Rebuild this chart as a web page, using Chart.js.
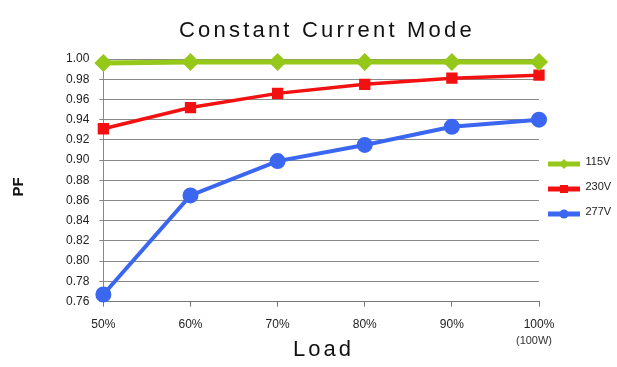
<!DOCTYPE html>
<html>
<head>
<meta charset="utf-8">
<script src="https://cdn.jsdelivr.net/npm/chart.js@4/dist/chart.umd.min.js"></script>
<style>
  html, body { margin: 0; padding: 0; background: #fff; }
  #wrap { width: 617px; height: 367px; }
</style>
</head>
<body>
<div id="wrap"><canvas id="pfChart"></canvas></div>
<script>
const loads = ['50%', '60%', '70%', '80%', '90%', '100%']
const pf115 = [0.996, 0.997, 0.997, 0.997, 0.997, 0.997]
const pf230 = [0.931, 0.952, 0.966, 0.975, 0.981, 0.984]
const pf277 = [0.767, 0.865, 0.899, 0.915, 0.933, 0.940]
const seriesNames = ['115V', '230V', '277V']
const yTicks = [0.76, 0.78, 0.80, 0.82, 0.84, 0.86, 0.88, 0.90, 0.92, 0.94, 0.96, 0.98, 1.00]

const titleText = 'Constant Current Mode'
const xTitle = 'Load'
const yTitle = 'PF'
const lastNote = '(100W)'

const GREEN = '#96c81a'
const RED = '#f21010'
const BLUE = '#3b66f0'
const FONT = '"Liberation Sans", Arial, sans-serif'

// line + marker swatch for the legend (drawn a bit low to line up with the text)
function swatch(color, style) {
    const c = document.createElement('canvas')
    c.width = 32
    c.height = 17
    const g = c.getContext('2d')
    const cy = 11
    g.strokeStyle = color
    g.lineWidth = 5
    g.beginPath()
    g.moveTo(0, cy)
    g.lineTo(32, cy)
    g.stroke()
    g.fillStyle = color
    g.beginPath()
    if (style === 'rectRot') {
        g.moveTo(16, cy - 5); g.lineTo(21, cy); g.lineTo(16, cy + 5); g.lineTo(11, cy)
    } else if (style === 'rect') {
        g.rect(12, cy - 4, 8, 8)
    } else {
        g.arc(16, cy, 4.5, 0, Math.PI * 2)
    }
    g.fill()
    return c
}

const extraText = {
    id: 'extraText',
    afterDraw(chart) {
        const ctx = chart.ctx
        const x = chart.scales.x
        ctx.save()
        ctx.fillStyle = '#111'
        ctx.textAlign = 'left'
        ctx.textBaseline = 'alphabetic'
        ctx.font = '22px ' + FONT
        ctx.letterSpacing = '3.2px'
        ctx.fillText(titleText, 179, 37)
        ctx.letterSpacing = '3px'
        ctx.fillText(xTitle, 293, 356)
        ctx.letterSpacing = '0px'

        ctx.textAlign = 'center'
        ctx.textBaseline = 'middle'
        ctx.font = '11px ' + FONT
        ctx.fillStyle = '#333'
        ctx.fillText(lastNote, x.getPixelForValue(loads.length - 1) - 5, 341)

        ctx.translate(19, 187)
        ctx.rotate(-Math.PI / 2)
        ctx.font = 'bold 15px ' + FONT
        ctx.fillStyle = '#111'
        ctx.fillText(yTitle, 0, 0)
        ctx.restore()
    }
}

const ctx = document.getElementById('pfChart').getContext('2d')
const pfChart = new Chart(ctx, {
    type: 'line',
    data: {
        labels: loads,
        datasets: [{
            label: seriesNames[0],
            data: pf115,
            borderColor: GREEN,
            backgroundColor: GREEN,
            borderWidth: 5,
            pointStyle: 'rectRot',
            pointRadius: 5.5,
            clip: false,
            legendIcon: swatch(GREEN, 'rectRot')
        }, {
            label: seriesNames[1],
            data: pf230,
            borderColor: RED,
            backgroundColor: RED,
            borderWidth: 3.5,
            pointStyle: 'rect',
            pointRadius: 5.5,
            clip: false,
            legendIcon: swatch(RED, 'rect')
        }, {
            label: seriesNames[2],
            data: pf277,
            borderColor: BLUE,
            backgroundColor: BLUE,
            borderWidth: 4,
            pointStyle: 'circle',
            pointRadius: 6,
            clip: false,
            legendIcon: swatch(BLUE, 'circle')
        }]
    },
    options: {
        responsive: true,
        maintainAspectRatio: false,
        animation: false,
        layout: { padding: { top: 59, left: 56, right: 0, bottom: 24 } },
        plugins: {
            title: { display: false },
            tooltip: { enabled: false },
            legend: {
                position: 'right',
                align: 'start',
                maxWidth: 78,
                // empty title only pushes the items down to where they sit in the original
                title: { display: true, text: '', font: { size: 12 }, padding: { top: 0, bottom: 73.6 } },
                labels: {
                    usePointStyle: true,
                    pointStyleWidth: 32,
                    padding: 9,
                    color: '#222',
                    font: { size: 11, lineHeight: 16 / 11, family: '"Liberation Sans Narrow", ' + FONT },
                    generateLabels(chart) {
                        return chart.data.datasets.map((ds, i) => ({
                            text: [ds.label],
                            pointStyle: ds.legendIcon,
                            fillStyle: ds.borderColor,
                            strokeStyle: ds.borderColor,
                            lineWidth: 0,
                            fontColor: '#222',
                            hidden: false,
                            datasetIndex: i
                        }))
                    }
                }
            }
        },
        scales: {
            x: {
                offset: false,
                grid: { display: true, drawOnChartArea: false, tickLength: 5, color: '#777' },
                border: { color: '#777' },
                ticks: {
                    color: '#222',
                    padding: 11,
                    maxRotation: 0,
                    font: { size: 12, family: FONT }
                }
            },
            y: {
                min: yTicks[0],
                max: yTicks[yTicks.length - 1],
                afterBuildTicks(scale) {
                    scale.ticks = yTicks.map(v => ({ value: v }))
                },
                grid: { color: '#888', tickLength: 4 },
                border: { color: '#888' },
                ticks: {
                    color: '#222',
                    padding: 10,
                    font: { size: 12, family: FONT },
                    callback: v => v.toFixed(2)
                }
            }
        }
    },
    plugins: [extraText]
})
</script>
</body>
</html>
